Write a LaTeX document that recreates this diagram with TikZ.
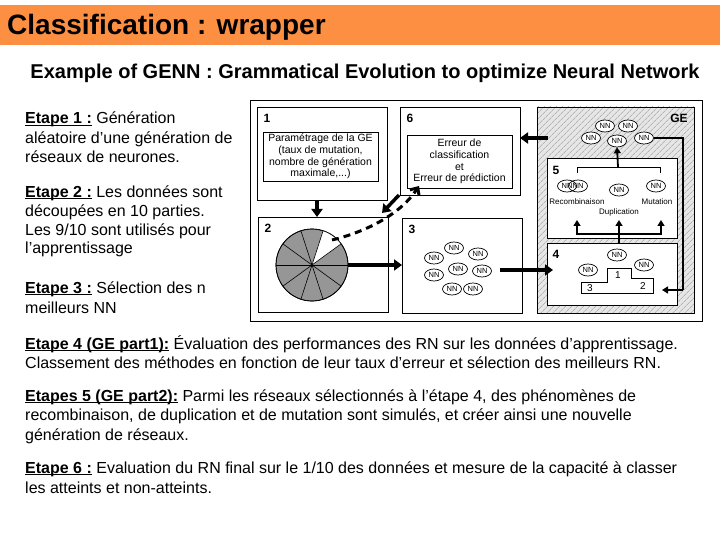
\documentclass[tikz,border=0pt]{standalone}
\usepackage{fontspec}
\setmainfont{Liberation Sans}
\usetikzlibrary{arrows.meta,shapes.geometric,patterns.meta,calc}
\definecolor{barorange}{RGB}{252,143,66}
\definecolor{piegray}{RGB}{150,150,150}
\definecolor{gebg}{RGB}{230,230,230}
\newsavebox{\ulsave}
\newcommand{\ulbox}[1]{\sbox{\ulsave}{#1}\rlap{\rule[-2.3pt]{\wd\ulsave}{1.1pt}}\usebox{\ulsave}}
\begin{document}
\begin{tikzpicture}[x=1pt,y=-1pt,
  box/.style={draw,line width=0.8pt,anchor=north west,inner sep=0,outer sep=0},
  num/.style={font=\fontsize{12}{14}\selectfont\bfseries,anchor=center,inner sep=0},
  nn/.style={ellipse,draw,line width=0.7pt,fill=white,minimum width=19pt,minimum height=12pt,inner sep=0,font=\fontsize{7.5}{8}\selectfont},
  arr/.style={line width=3.5pt,-{Triangle[length=8pt,width=11pt]}},
  lw/.style={line width=1.8pt},
  smallarr/.style={line width=1.8pt,-{Triangle[length=6pt,width=7pt]}},
  body/.style={anchor=base west,inner sep=0,font=\fontsize{16}{19}\selectfont},
  boxtext/.style={font=\fontsize{10.5}{11.8}\selectfont,align=center,inner sep=0},
  small/.style={font=\fontsize{8}{9}\selectfont,inner sep=0}
]
\useasboundingbox (0,0) rectangle (720,540);
\fill[white] (0,0) rectangle (720,540);
% title bar
\fill[barorange] (0,5) rectangle (720,45);
\node[anchor=base west,inner sep=0,font=\fontsize{28}{30}\selectfont\bfseries] (title) at (7,35) {Classification : wrapper};
\node[anchor=base,inner sep=0,font=\fontsize{20}{24}\selectfont\bfseries] (sub) at (365,79) {Example of GENN : Grammatical Evolution to optimize Neural Network};
% left column
\node[body] (l1) at (25,124) {\ulbox{\textbf{Etape 1 :}} Génération};
\node[body] (l2) at (25,144) {aléatoire d'une génération de};
\node[body] (l3) at (25,163) {réseaux de neurones.};
\node[body] (l4) at (25,197) {\ulbox{\textbf{Etape 2 :}} Les données sont};
\node[body] (l5) at (25,217) {découpées en 10 parties.};
\node[body] (l6) at (25,236) {Les 9/10 sont utilisés pour};
\node[body] (l7) at (25,254) {l'apprentissage};
\node[body] (l8) at (25,293) {\ulbox{\textbf{Etape 3 :}} Sélection des n};
\node[body] (l9) at (25,313) {meilleurs NN};
% bottom text
\node[body] (m1) at (25,349) {\ulbox{\textbf{Etape 4 (GE part1):}} Évaluation des performances des RN sur les données d'apprentissage.};
\node[body] (m2) at (25,368) {Classement des méthodes en fonction de leur taux d'erreur et sélection des meilleurs RN.};
\node[body] (m3) at (25,401) {\ulbox{\textbf{Etapes 5 (GE part2):}} Parmi les réseaux sélectionnés à l'étape 4, des phénomènes de};
\node[body] (m4) at (25,420) {recombinaison, de duplication et de mutation sont simulés, et créer ainsi une nouvelle};
\node[body] (m5) at (25,440) {génération de réseaux.};
\node[body] (m6) at (25,473) {\ulbox{\textbf{Etape 6 :}} Evaluation du RN final sur le 1/10 des données et mesure de la capacité à classer};
\node[body] (m7) at (25,493) {les atteints et non-atteints.};
% frame
\node[box,minimum width=452pt,minimum height=221pt] (frame) at (250,100) {};
% box 1
\node[box,minimum width=130pt,minimum height=93pt] (b1) at (257,107) {};
\node[num] (n1) at (267,118) {1};
\node[box,minimum width=115pt,minimum height=49pt] (b1in) at (263,132) {};
\node[boxtext] (t1) at (b1in.center) {Paramétrage de la GE\\(taux de mutation,\\nombre de génération\\maximale,...)};
% box 6
\node[box,minimum width=120pt,minimum height=88pt] (b6) at (400,107) {};
\node[num] (n6) at (410,118) {6};
\node[box,minimum width=105pt,minimum height=53pt] (b6in) at (407,135) {};
\node[boxtext] (t6) at (b6in.center) {Erreur de\\classification\\et\\Erreur de prédiction};
% box 2
\node[box,minimum width=130pt,minimum height=95pt] (b2) at (258,217) {};
\node[num] (n2) at (268,228) {2};
\node[circle,draw,line width=0.7pt,minimum size=72pt,inner sep=0,fill=piegray] (pie) at (312,265) {};
\fill[white] (pie.center) -- plot[domain=-72:-36,samples=12] ({312+36*cos(\x)},{265+36*sin(\x)}) -- cycle;
\foreach \k in {0,...,9} \draw[line width=0.6pt] (pie.center) -- ++(36*\k:36);
\draw[line width=0.7pt] (pie.center) circle (36);
\coordinate (white) at (332,240);
% box 3
\node[box,minimum width=120pt,minimum height=95pt] (b3) at (402,218) {};
\node[num] (n3) at (412,229) {3};
\foreach \p/\q [count=\i] in {434/258,454/248,478/254,434/275,458/269,482/271,452/289,473/289}
  \node[nn] (a\i) at (\p,\q) {NN};
% GE box
\node[box,minimum width=157pt,minimum height=206pt,preaction={fill=gebg},pattern={Lines[angle=45,distance=4pt,line width=0.5pt]},pattern color=gray!80] (ge) at (537,107) {};
\node[num] (nge) at (679,118) {GE};
\node[box,fill=white,minimum width=130pt,minimum height=80pt] (b5) at (547,158) {};
\node[num] (n5) at (556,170) {5};
\node[box,fill=white,minimum width=130pt,minimum height=62pt] (b4) at (547,243) {};
\node[num] (n4) at (556,254) {4};
% GE top NNs
\node[nn] (g1) at (605,126) {NN};
\node[nn] (g2) at (628,126) {NN};
\node[nn] (g3) at (591,138) {NN};
\node[nn] (g4) at (617,141) {NN};
\node[nn] (g5) at (644,138) {NN};
% box 5 content
\node[nn] (r1) at (567,186) {NN};
\node[nn,fill=none] (r2) at (578,186) {NN};
\node[nn] (d1) at (619,190) {NN};
\node[nn] (mu) at (656,186) {NN};
\node[small] (rl) at (577,202) {Recombinaison};
\node[small] (dl) at (619,212) {Duplication};
\node[small] (ml) at (657,202) {Mutation};
\draw[line width=0.8pt] (577,173) -- (577,167) -- (660,167) -- (660,173);
\draw[smallarr] (618,167) -- (g4.south);
\coordinate (sp) at (619,234);
\draw[lw] (619,243) -- (sp);
\draw[lw] (577,234) -- (661,234);
\draw[smallarr] (577,235) -- (577,220);
\draw[smallarr] (sp) -- (619,220);
\draw[smallarr] (661,235) -- (661,220);
% box 4 content
\node[nn] (p1) at (617,255) {NN};
\node[nn] (p2) at (644,265) {NN};
\node[nn] (p3) at (588,270) {NN};
\draw[line width=0.7pt] (581,282) -- (607,282) -- (607,268) -- (631,268) -- (631,278) -- (653,278) -- (653,293) -- (581,293) -- cycle;
\node[font=\fontsize{10}{12}\selectfont,inner sep=0] (pd1) at (618,275) {1};
\node[font=\fontsize{10}{12}\selectfont,inner sep=0] (pd2) at (643,286) {2};
\node[font=\fontsize{10}{12}\selectfont,inner sep=0] (pd3) at (590,288) {3};
% loop from GE NNs to box 4
\coordinate (lp) at (683,290);
\draw[lw] (g5.east) -- (683,138) -- (lp);
\draw[smallarr] (lp) -- (662,290);
% main arrows
\draw[arr] ([xshift=-5pt]b1.south) -- ([xshift=-5pt]b1.south |- b2.north);
\draw[arr] (pie.east) -- (pie.east -| b3.west);
\coordinate (b3out) at (500,270);
\draw[arr] (b3out) -- (553,270);
\coordinate (geout) at (548,138);
\draw[arr] (geout) -- (geout -| b6.east);
\draw[arr] ([xshift=-1pt]b6.south west) -- ([shift={(-6,-4)}]b2.north east);
\draw[line width=3pt,dash pattern=on 7pt off 5pt,-{Straight Barb[length=6pt,width=11pt]}] (white) .. controls (365,232) and (400,215) .. (419,186);
\end{tikzpicture}
\end{document}
